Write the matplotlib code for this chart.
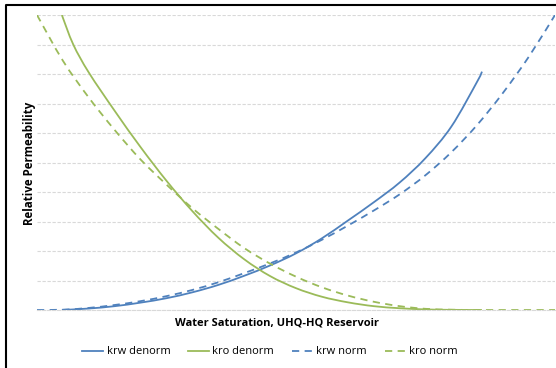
import matplotlib
matplotlib.use("Agg")
import matplotlib.pyplot as plt
from matplotlib.lines import Line2D
from matplotlib.path import Path
from matplotlib.patches import PathPatch

# Data
sw_krw_denorm = [0.048, 0.10, 0.15, 0.20, 0.25, 0.30, 0.35, 0.40, 0.45, 0.50, 0.55,
                 0.60, 0.65, 0.70, 0.75, 0.80, 0.85, 0.859]
krw_denorm = [0.0, 0.005, 0.013, 0.025, 0.040, 0.060, 0.085, 0.116, 0.151, 0.192, 0.243,
              0.303, 0.365, 0.432, 0.515, 0.622, 0.775, 0.808]

sw_kro_denorm = [0.048, 0.07, 0.10, 0.15, 0.20, 0.25, 0.30, 0.35, 0.40, 0.45, 0.50,
                 0.55, 0.60, 0.65, 0.70, 0.75, 0.80, 0.859]
kro_denorm = [1.0, 0.90, 0.805, 0.675, 0.552, 0.438, 0.335, 0.245, 0.172, 0.115, 0.074,
              0.045, 0.026, 0.013, 0.006, 0.002, 0.0005, 0.0]

sw_norm = [0.00, 0.05, 0.10, 0.15, 0.20, 0.25, 0.30, 0.35, 0.40, 0.45, 0.50,
           0.55, 0.60, 0.65, 0.70, 0.75, 0.80, 0.85, 0.90, 0.95, 1.00]
krw_norm = [0.0, 0.001, 0.007, 0.017, 0.030, 0.047, 0.068, 0.094, 0.125, 0.158, 0.195,
            0.238, 0.286, 0.337, 0.392, 0.457, 0.535, 0.628, 0.737, 0.860, 1.0]
kro_norm = [1.0, 0.845, 0.72, 0.61, 0.51, 0.425, 0.345, 0.275, 0.21, 0.157, 0.113,
            0.077, 0.049, 0.028, 0.013, 0.004, 0.001, 0.0, 0.0, 0.0, 0.0]

labels = ["krw denorm", "kro denorm", "krw norm", "kro norm"]

blue = "#4F81BD"
green = "#9BBB59"


def smooth_path(xs, ys):
    """Smoothed line through the points (Excel-style Catmull-Rom Bezier)."""
    pts = list(zip(xs, ys))
    n = len(pts)
    verts = [pts[0]]
    codes = [Path.MOVETO]
    for i in range(n - 1):
        p0 = pts[i - 1] if i > 0 else pts[i]
        p1 = pts[i]
        p2 = pts[i + 1]
        p3 = pts[i + 2] if i + 2 < n else pts[i + 1]
        c1 = (p1[0] + (p2[0] - p0[0]) / 6, p1[1] + (p2[1] - p0[1]) / 6)
        c2 = (p2[0] - (p3[0] - p1[0]) / 6, p2[1] - (p3[1] - p1[1]) / 6)
        verts += [c1, c2, p2]
        codes += [Path.CURVE4] * 3
    return Path(verts, codes)


fig = plt.figure(figsize=(5.56, 3.68), dpi=100)
ax = fig.add_axes([37/556, 1-310/368, (555-37)/556, (310-15)/368])

lw = 1.3
dash = (0, (4, 3))
series = [
    (sw_krw_denorm, krw_denorm, blue, "-"),
    (sw_kro_denorm, kro_denorm, green, "-"),
    (sw_norm, krw_norm, blue, dash),
    (sw_norm, kro_norm, green, dash),
]
handles = []
for (xs, ys, c, ls), lab in zip(series, labels):
    patch = PathPatch(smooth_path(xs, ys), facecolor="none", edgecolor=c, lw=lw,
                      linestyle=ls, transform=ax.transData, capstyle="butt")
    ax.add_patch(patch)
    handles.append(Line2D([], [], color=c, lw=lw, ls=ls, label=lab))

ax.set_xlim(0, 1)
ax.set_ylim(0, 1)
ax.set_yticks([i/10 for i in range(11)])
ax.set_xticks([])
ax.tick_params(left=False, labelleft=False, bottom=False, labelbottom=False)
ax.grid(axis="y", color="#D9D9D9", ls=(0, (3, 1.5)), lw=0.8)
for s in ["top", "right", "left"]:
    ax.spines[s].set_visible(False)
ax.spines["bottom"].set_color("#D9D9D9")
ax.spines["bottom"].set_linestyle((0, (3, 1.5)))
ax.spines["bottom"].set_linewidth(0.8)
ax.set_axisbelow(True)

fig.text(277/556, 1-323/368, "Water Saturation, UHQ-HQ Reservoir", ha="center", va="center",
         fontsize=8, fontweight="bold", family="Open Sans")
fig.text(29/556, 1-163/368, "Relative Permeability", ha="center", va="center", rotation=90,
         fontsize=8.3, fontweight="bold", family="Open Sans")

fig.legend(handles=handles, loc="center", bbox_to_anchor=(270/556, 1-352/368), ncol=4,
           frameon=False, prop={"family": "Open Sans", "size": 8}, handlelength=1.9,
           columnspacing=1.6, handletextpad=0.3)

# figure border (left and top visible)
fig.add_artist(Line2D([6/556, 6/556, 1.0], [0.0, 1-5/368, 1-5/368], transform=fig.transFigure,
                      color="black", lw=1.5))

fig.savefig("out.png", dpi=100)
